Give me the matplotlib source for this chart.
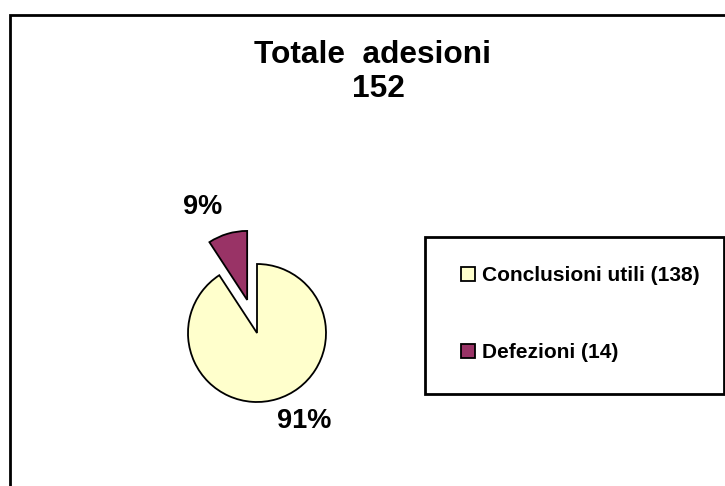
import numpy as np
import matplotlib
matplotlib.use('Agg')
from matplotlib import pyplot as plt
from matplotlib.patches import Rectangle

plt.rcParams['font.family'] = ['Liberation Sans', 'DejaVu Sans']

# data
labels = ['Conclusioni utili (138)', 'Defezioni (14)']
counts = [138, 14]
colors = ['#FFFFCC', '#993366']
explode = [0, 0.5]
title_lines = ['Totale  adesioni', '152']

# label placement (radius multiples and angle shift from the wedge middle)
label_dist = [1.45, 1.5]
label_shift = [11.8, 9.0]

W, H = 725, 486
fig = plt.figure(figsize=(W / 100, H / 100), dpi=100)

# outer frame (only top and left visible, rest runs off the picture)
fig.patches.append(Rectangle((10 / W, -0.1), 1.0, 1 - 15 / H + 0.1,
                             transform=fig.transFigure, fill=False,
                             lw=2, ec='black'))

# pie axes: centre ~(257, 333) px, radius ~69 px
r_px = 69
lim = 2.2
side = 2 * lim * r_px
cx, cy = 257, 333
ax = fig.add_axes([(cx - side / 2) / W, (H - cy - side / 2) / H, side / W, side / H])
wedges, texts, autotexts = ax.pie(
    counts,
    colors=colors,
    explode=explode,
    startangle=90,
    counterclock=False,
    autopct=lambda p: f'{p:.0f}%',
    wedgeprops=dict(edgecolor='black', linewidth=1.3),
    textprops=dict(fontsize=19.5, fontweight='bold'),
)
for w, t, d, s in zip(wedges, autotexts, label_dist, label_shift):
    ang = np.deg2rad((w.theta1 + w.theta2) / 2 + s)
    x0, y0 = w.center
    t.set_position((x0 + d * np.cos(ang), y0 + d * np.sin(ang)))
ax.set_xlim(-lim, lim)
ax.set_ylim(-lim, lim)
ax.set_aspect('equal')
ax.axis('off')

# title, two lines
fig.text(372 / W, 1 - 63 / H, title_lines[0], ha='center', va='baseline',
         fontsize=22.8, fontweight='bold')
fig.text(378 / W, 1 - 97 / H, title_lines[1], ha='center', va='baseline',
         fontsize=22.8, fontweight='bold')

# legend box on the right
fig.patches.append(Rectangle((425 / W, 1 - 394 / H), 299 / W, 157 / H,
                             transform=fig.transFigure, fill=False,
                             lw=2, ec='black'))
leg = fig.legend(
    wedges, labels,
    loc='upper left',
    bbox_to_anchor=(461 / W, 1 - 266 / H),
    prop=dict(size=15, weight='bold'),
    frameon=False,
    borderpad=0, labelspacing=2.8,
    handlelength=0.67, handleheight=0.67, handletextpad=0.34,
    borderaxespad=0,
)

fig.savefig('out.png', dpi=100)
